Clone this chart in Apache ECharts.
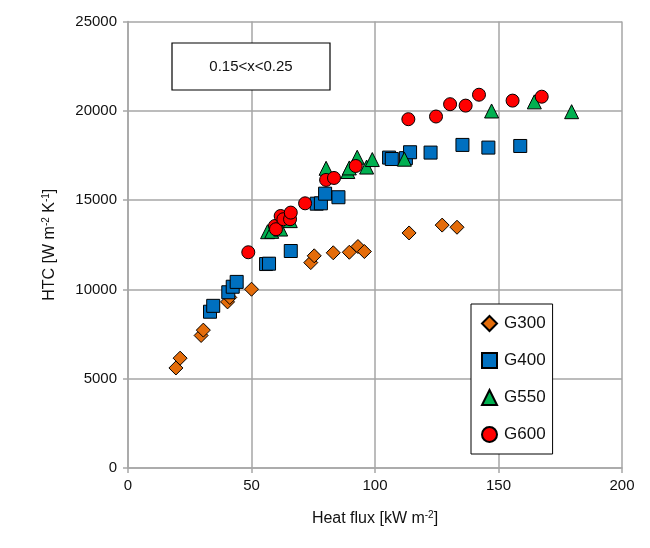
<!DOCTYPE html>
<html>
<head>
<meta charset="utf-8">
<script src="https://cdn.jsdelivr.net/npm/echarts@6/dist/echarts.min.js"></script>
<style>
  html, body { margin: 0; padding: 0; background: #fff; }
  #chart { width: 650px; height: 548px; }
</style>
</head>
<body>
<div id="chart"></div>
<script>
// 数据: [heat flux kW/m2, HTC W/m2K]
var g300 = [[19.4, 5600], [21.1, 6150], [29.6, 7420], [30.5, 7720], [40.3, 9300], [41.2, 9550],
    [50, 10010], [74, 11500], [75.4, 11880], [83.1, 12050], [89.6, 12080], [93.1, 12400],
    [95.7, 12120], [113.8, 13160], [127.2, 13600], [133.2, 13480]]
var g400 = [[33.2, 8750], [34.5, 9080], [40.6, 9840], [42.4, 10150], [44, 10420],
    [55.9, 11420], [57.1, 11440], [65.9, 12150], [76.4, 14800], [78.1, 14820], [79.8, 15360],
    [85.2, 15160], [105.7, 17380], [106.8, 17300], [112.5, 17350], [114.2, 17680],
    [122.5, 17660], [135.4, 18090], [145.9, 17940], [158.8, 18030]]
var g550 = [[56.5, 13230], [58.2, 13250], [61.8, 13380], [65.7, 13850], [80.2, 16780],
    [89, 16600], [89.6, 16800], [92.8, 17400], [96.6, 16850], [98.9, 17270],
    [111.9, 17290], [147.2, 19990], [164.5, 20500], [179.6, 19950]]
var g600 = [[48.7, 12080], [59.5, 13550], [59.9, 13370], [61.8, 14110], [62.9, 13930],
    [65.6, 13930], [65.9, 14300], [71.7, 14820], [80.2, 16130], [83.4, 16240], [92.2, 16910],
    [113.5, 19530], [124.7, 19680], [130.4, 20370], [136.7, 20290], [142.1, 20900],
    [155.7, 20570], [167.5, 20790]]
var seriesNames = ['G300', 'G400', 'G550', 'G600']

var chart = echarts.init(document.getElementById('chart'))
var FONT = 'Liberation Sans'
var gridColor = '#A6A6A6'

function mk(name, data, symbol, size, color) {
    return {
        name: name,
        type: 'scatter',
        data: data,
        symbol: symbol,
        symbolSize: size,
        itemStyle: { color: color, borderColor: '#000', borderWidth: 1, opacity: 1 },
        emphasis: { disabled: true }
    }
}

var option = {
    animation: false,
    backgroundColor: '#fff',
    textStyle: { fontFamily: FONT },
    grid: { left: 128, right: 28, top: 21.5, bottom: 80 },
    legend: {
        orient: 'vertical',
        left: 471,
        top: 304,
        padding: [11, 7, 11, 10],
        itemGap: 20,
        itemWidth: 15,
        itemHeight: 15,
        borderColor: '#000',
        borderWidth: 1,
        backgroundColor: '#fff',
        textStyle: { fontFamily: FONT, fontSize: 17, color: '#111', padding: [0, 0, 0, 2] },
        data: seriesNames
    },
    xAxis: {
        type: 'value',
        min: 0, max: 200, interval: 50,
        name: 'Heat flux [kW m{sup|-2}]',
        nameLocation: 'middle',
        nameGap: 42,
        nameTextStyle: {
            fontFamily: FONT, fontSize: 16, color: '#111',
            rich: { sup: { fontSize: 10, verticalAlign: 'top', padding: [0, 0, 8, 0], color: '#111' } }
        },
        axisLine: { lineStyle: { color: gridColor, width: 1.5 } },
        axisTick: { show: true, length: 5, lineStyle: { color: gridColor, width: 1.5 } },
        axisLabel: { fontFamily: FONT, fontSize: 15, color: '#111', margin: 10 },
        splitLine: { show: true, lineStyle: { color: gridColor, width: 1.5 } }
    },
    yAxis: {
        type: 'value',
        min: 0, max: 25000, interval: 5000,
        name: 'HTC [W m{sup|-2} K{sup|-1}]',
        nameLocation: 'middle',
        nameGap: 69,
        nameRotate: 90,
        nameTextStyle: {
            fontFamily: FONT, fontSize: 16, color: '#111',
            rich: { sup: { fontSize: 10, verticalAlign: 'top', padding: [0, 0, 8, 0], color: '#111' } }
        },
        axisLine: { show: true, lineStyle: { color: gridColor, width: 1.5 } },
        axisTick: { show: true, length: 5, lineStyle: { color: gridColor, width: 1.5 } },
        axisLabel: {
            fontFamily: FONT, fontSize: 15, color: '#111', margin: 11,
            formatter: function (v) { return String(v) }
        },
        splitLine: { show: true, lineStyle: { color: gridColor, width: 1.5 } }
    },
    graphic: [
        {
            type: 'rect',
            shape: { x: 172, y: 43, width: 158, height: 47 },
            style: { fill: '#fff', stroke: '#000', lineWidth: 1.2 },
            z: 100
        },
        {
            type: 'text',
            x: 251, y: 67,
            style: {
                text: '0.15<x<0.25', fontFamily: FONT, fontSize: 15, fill: '#111',
                align: 'center', verticalAlign: 'middle'
            },
            z: 101
        }
    ],
    series: [
        mk('G300', g300, 'diamond', 14, '#E46C0A'),
        mk('G400', g400, 'rect', 13, '#0070C0'),
        mk('G550', g550, 'triangle', 14, '#00B050'),
        mk('G600', g600, 'circle', 13, '#FF0000')
    ]
};
chart.setOption(option);
</script>
</body>
</html>
